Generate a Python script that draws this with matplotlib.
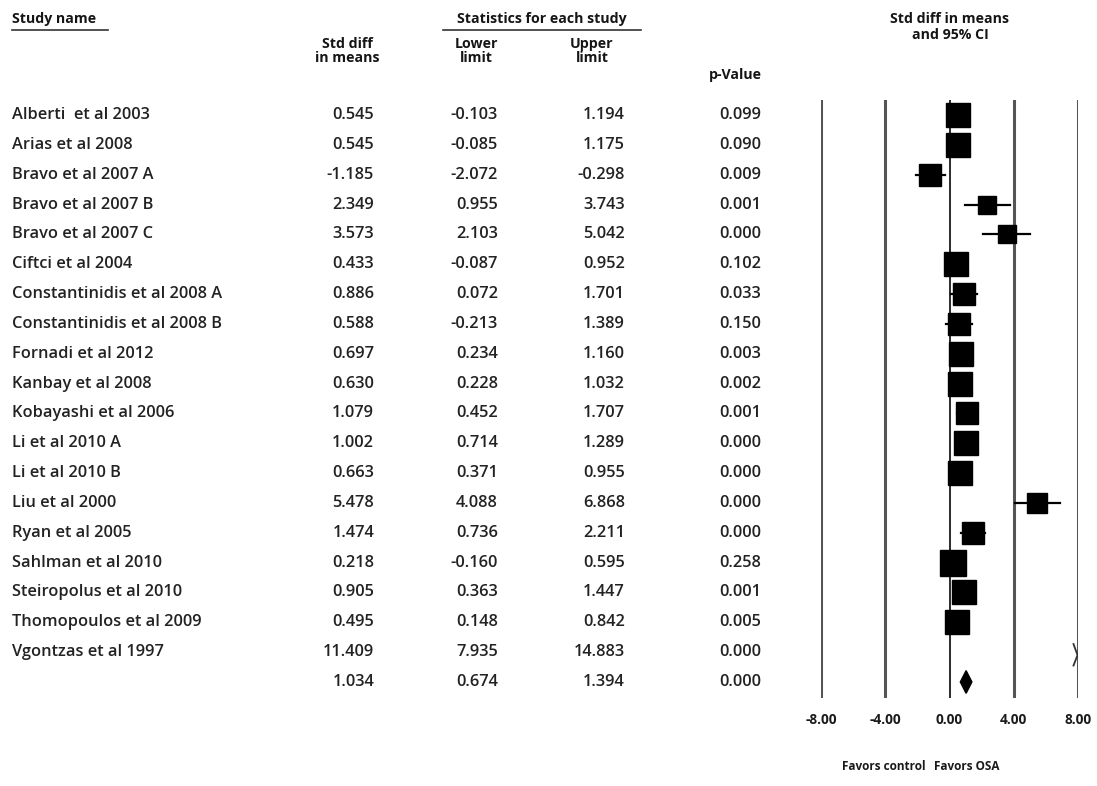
import matplotlib
matplotlib.use("Agg")
import matplotlib.pyplot as plt
from matplotlib.lines import Line2D
from matplotlib.transforms import blended_transform_factory

# ---- data -------------------------------------------------------------
studies = [
    "Alberti  et al 2003", "Arias et al 2008", "Bravo et al 2007 A",
    "Bravo et al 2007 B", "Bravo et al 2007 C", "Ciftci et al 2004",
    "Constantinidis et al 2008 A", "Constantinidis et al 2008 B",
    "Fornadi et al 2012", "Kanbay et al 2008", "Kobayashi et al 2006",
    "Li et al 2010 A", "Li et al 2010 B", "Liu et al 2000",
    "Ryan et al 2005", "Sahlman et al 2010", "Steiropolus et al 2010",
    "Thomopoulos et al 2009", "Vgontzas et al 1997",
]
std_diff = [0.545, 0.545, -1.185, 2.349, 3.573, 0.433, 0.886, 0.588, 0.697,
            0.630, 1.079, 1.002, 0.663, 5.478, 1.474, 0.218, 0.905, 0.495,
            11.409]
lower_limit = [-0.103, -0.085, -2.072, 0.955, 2.103, -0.087, 0.072, -0.213,
               0.234, 0.228, 0.452, 0.714, 0.371, 4.088, 0.736, -0.160,
               0.363, 0.148, 7.935]
upper_limit = [1.194, 1.175, -0.298, 3.743, 5.042, 0.952, 1.701, 1.389,
               1.160, 1.032, 1.707, 1.289, 0.955, 6.868, 2.211, 0.595,
               1.447, 0.842, 14.883]
p_value = [0.099, 0.090, 0.009, 0.001, 0.000, 0.102, 0.033, 0.150, 0.003,
           0.002, 0.001, 0.000, 0.000, 0.000, 0.000, 0.258, 0.001, 0.005,
           0.000]
# relative study weights (box area)
weight = [5.8, 5.8, 4.5, 3.6, 3.6, 5.3, 4.5, 4.5, 5.3, 5.3, 4.9, 5.8, 5.8,
          4.0, 4.9, 6.3, 5.3, 5.8, 1.0]
summary_est, summary_lo, summary_hi, summary_p = 1.034, 0.674, 1.394, 0.000
axis_ticks = [-8, -4, 0, 4, 8]
axis_tick_labels = ["-8.00", "-4.00", "0.00", "4.00", "8.00"]

# ---- figure -----------------------------------------------------------
W, H = 1097, 786
FONT = "Open Sans"
BODY = dict(family=FONT, fontsize=11.8, fontweight="semibold",
            color="#222222")
HEAD = dict(family=FONT, fontsize=10.2, fontweight="bold", color="#151515")

fig = plt.figure(figsize=(W / 100, H / 100), dpi=100, facecolor="white")


def fx(px):
    return px / W


def fy(py):
    return 1 - py / H


# forest panel: x from -8 to 8, one row per study plus the pooled row
row0, row_step = 115, 29.84
top_px, bot_px = 100, 698
ax = fig.add_axes([fx(821), fy(bot_px), fx(1078) - fx(821),
                   (bot_px - top_px) / H])
ax.set_xlim(-8, 8)
ax.set_ylim((bot_px - row0) / row_step, (top_px - row0) / row_step)
for s in ax.spines.values():
    s.set_visible(False)
ax.set_yticks([])
ax.set_xticks(axis_ticks)
ax.set_xticklabels(axis_tick_labels, family=FONT, fontsize=9.8,
                   fontweight="bold", color="#1a1a1a")
ax.tick_params(axis="x", length=0, pad=11)

for t in axis_ticks:
    if t == 0:
        ax.axvline(t, color="#1a1a1a", lw=1.3, zorder=1)
    else:
        ax.axvline(t, color="#555555", lw=2.2, zorder=1)

n = len(studies)
for i in range(n):
    est, lo, hi = std_diff[i], lower_limit[i], upper_limit[i]
    if est > 8:
        # off-scale estimate: small arrow head at the right edge
        ax.plot([7.72, 7.97, 7.72], [i - 0.27, i + 0.1, i + 0.45],
                color="#333333", lw=1.3, zorder=3)
        continue
    ax.plot([lo, hi], [i, i], color="black", lw=1.6, zorder=2)
    ax.plot([est], [i], marker="s", ms=7.2 * weight[i] ** 0.5,
            color="black", zorder=3)

# pooled estimate diamond
ys = n
ax.fill([summary_lo, summary_est, summary_hi, summary_est],
        [ys, ys - 0.38, ys, ys + 0.38], color="black", zorder=3)

# ---- table ------------------------------------------------------------
tr = blended_transform_factory(fig.transFigure, ax.transData)
col_name = fx(12)
col_est, col_lo, col_hi, col_p = fx(374), fx(498), fx(625), fx(761)

for i in range(n):
    fig.text(col_name, i, studies[i], transform=tr, ha="left",
             va="center", **BODY)
    fig.text(col_est, i, f"{std_diff[i]:.3f}", transform=tr, ha="right",
             va="center", **BODY)
    fig.text(col_lo, i, f"{lower_limit[i]:.3f}", transform=tr, ha="right",
             va="center", **BODY)
    fig.text(col_hi, i, f"{upper_limit[i]:.3f}", transform=tr, ha="right",
             va="center", **BODY)
    fig.text(col_p, i, f"{p_value[i]:.3f}", transform=tr, ha="right",
             va="center", **BODY)

fig.text(col_est, n, f"{summary_est:.3f}", transform=tr, ha="right",
         va="center", **BODY)
fig.text(col_lo, n, f"{summary_lo:.3f}", transform=tr, ha="right",
         va="center", **BODY)
fig.text(col_hi, n, f"{summary_hi:.3f}", transform=tr, ha="right",
         va="center", **BODY)
fig.text(col_p, n, f"{summary_p:.3f}", transform=tr, ha="right",
         va="center", **BODY)

# headers
fig.text(fx(12), fy(19), "Study name", ha="left", va="center", **HEAD)
fig.text(fx(542), fy(19), "Statistics for each study", ha="center",
         va="center", **HEAD)
fig.add_artist(Line2D([fx(12), fx(108)], [fy(30), fy(30)], color="#333333",
                      lw=1.2))
fig.add_artist(Line2D([fx(443), fx(641)], [fy(30), fy(30)], color="#333333",
                      lw=1.2))

fig.text(fx(347), fy(51), "Std diff\nin means", ha="center", va="center",
         linespacing=1.05, **HEAD)
fig.text(fx(476), fy(51), "Lower\nlimit", ha="center", va="center",
         linespacing=1.05, **HEAD)
fig.text(fx(592), fy(51), "Upper\nlimit", ha="center", va="center",
         linespacing=1.05, **HEAD)
fig.text(fx(735), fy(75), "p-Value", ha="center", va="center", **HEAD)

fig.text(fx(950), fy(27), "Std diff in means\nand 95% CI", ha="center",
         va="center", linespacing=1.1, **HEAD)

fig.text(fx(884), fy(767), "Favors control", ha="center", va="center",
         family=FONT, fontsize=8.5, fontweight="bold", color="#1a1a1a")
fig.text(fx(967), fy(767), "Favors OSA", ha="center", va="center",
         family=FONT, fontsize=8.5, fontweight="bold", color="#1a1a1a")

fig.savefig("out.png", dpi=100, facecolor="white")
